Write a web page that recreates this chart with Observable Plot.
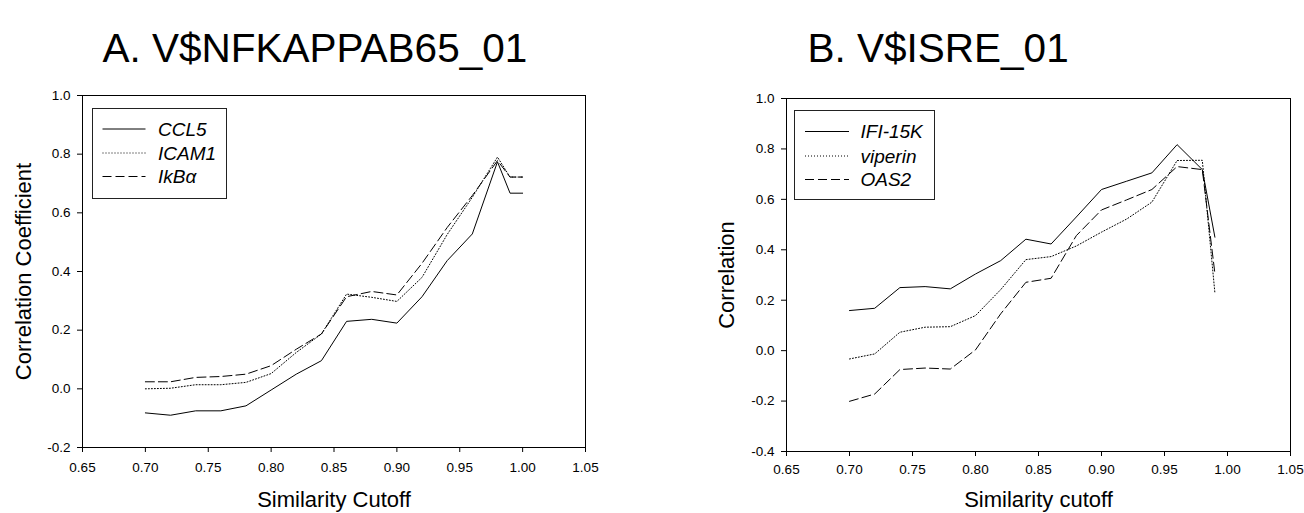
<!DOCTYPE html>
<html>
<head>
<meta charset="utf-8">
<script src="https://cdn.jsdelivr.net/npm/d3@7"></script>
<script src="https://cdn.jsdelivr.net/npm/@observablehq/plot@0.6"></script>
<style>
  html, body { margin: 0; padding: 0; background: #fff; }
  #wrap { position: relative; width: 1304px; height: 513px; overflow: hidden; font-family: "Liberation Sans", Arial, Helvetica, sans-serif; }
  .panel { position: absolute; top: 0; }
  .legend { position: absolute; }
</style>
</head>
<body>
<div id="wrap"></div>
<script>
// ---------- data ----------
const titleA = "A. V$NFKAPPAB65_01";
const titleB = "B. V$ISRE_01";
const xLabelA = "Similarity Cutoff";
const xLabelB = "Similarity cutoff";
const yLabelA = "Correlation Coefficient";
const yLabelB = "Correlation";

const xTicks = [0.65, 0.70, 0.75, 0.80, 0.85, 0.90, 0.95, 1.00, 1.05];
const yTicksA = [-0.2, 0.0, 0.2, 0.4, 0.6, 0.8, 1.0];
const yTicksB = [-0.4, -0.2, 0.0, 0.2, 0.4, 0.6, 0.8, 1.0];

const cutoffA = [0.70, 0.72, 0.74, 0.76, 0.78, 0.80, 0.82, 0.84, 0.86, 0.88, 0.90, 0.92, 0.94, 0.96, 0.98, 0.99, 1.00];
const ccl5  = [-0.082, -0.090, -0.075, -0.075, -0.058, -0.004, 0.050, 0.096, 0.230, 0.237, 0.224, 0.314, 0.437, 0.528, 0.774, 0.667, 0.667];
const icam1 = [0.000, 0.002, 0.014, 0.014, 0.022, 0.052, 0.124, 0.187, 0.323, 0.312, 0.298, 0.380, 0.526, 0.653, 0.790, 0.722, 0.722];
const ikba  = [0.024, 0.024, 0.039, 0.042, 0.050, 0.079, 0.135, 0.187, 0.314, 0.332, 0.320, 0.428, 0.550, 0.659, 0.778, 0.722, 0.722];

const cutoffB = [0.70, 0.72, 0.74, 0.76, 0.78, 0.80, 0.82, 0.84, 0.86, 0.88, 0.90, 0.92, 0.94, 0.96, 0.98, 0.99];
const ifi15k  = [0.159, 0.168, 0.250, 0.254, 0.245, 0.304, 0.357, 0.442, 0.423, 0.530, 0.639, 0.672, 0.705, 0.817, 0.718, 0.450];
const viperin = [-0.033, -0.013, 0.073, 0.093, 0.095, 0.139, 0.242, 0.361, 0.373, 0.415, 0.470, 0.522, 0.589, 0.754, 0.755, 0.229];
const oas2    = [-0.201, -0.172, -0.075, -0.069, -0.073, 0.003, 0.146, 0.271, 0.287, 0.456, 0.558, 0.598, 0.639, 0.730, 0.718, 0.306];

const namesA = ["CCL5", "ICAM1", "IkBα"];
const namesB = ["IFI-15K", "viperin", "OAS2"];
const dashes = [null, "1,2", "9,4"];

// ---------- helpers ----------
const FONT = '"Liberation Sans", Arial, Helvetica, sans-serif';
function rows(xs, ys) { return xs.map((x, i) => ({x, y: ys[i]})); }

function panel(cfg) {
  const lines = cfg.series.map((s, i) =>
    Plot.line(rows(cfg.xs, s), {x: "x", y: "y", stroke: "#000", strokeWidth: 1,
      strokeDasharray: dashes[i] || undefined}));
  return Plot.plot({
    width: 652, height: 513,
    marginLeft: cfg.ml, marginRight: cfg.mr, marginTop: cfg.mt, marginBottom: cfg.mb,
    style: {fontFamily: FONT, fontSize: "13.5px", color: "#000", background: "transparent", overflow: "visible"},
    x: {domain: [0.65, 1.05]},
    y: {domain: cfg.ydomain},
    marks: [
      Plot.frame({stroke: "#000", strokeWidth: 1}),
      Plot.axisX({ticks: xTicks, tickFormat: d => d.toFixed(2), tickSize: 5, tickPadding: cfg.xpad, label: null, fontSize: 13.5}),
      Plot.axisY({ticks: cfg.yticks, tickFormat: d => d.toFixed(1), tickSize: 5, tickPadding: 7, label: null, fontSize: 13.5}),
      ...lines,
      Plot.text([cfg.title], {text: d => d, frameAnchor: "top-left", textAnchor: "start", lineAnchor: "top",
        dx: cfg.tdx, dy: cfg.tdy, fontSize: 40.5}),
      Plot.text([cfg.xlabel], {text: d => d, frameAnchor: "bottom", textAnchor: "middle", lineAnchor: "middle",
        dy: cfg.xldy, fontSize: 22}),
      Plot.text([cfg.ylabel], {text: d => d, frameAnchor: "left", textAnchor: "middle", lineAnchor: "middle",
        rotate: -90, dx: cfg.yldx, fontSize: 22})
    ]
  });
}

function legend(names, box) {
  const svg = d3.create("svg")
    .attr("width", box.w).attr("height", box.h)
    .style("position", "absolute").style("left", box.x + "px").style("top", box.y + "px");
  svg.append("rect").attr("x", 0.5).attr("y", 0.5).attr("width", box.w - 1).attr("height", box.h - 1)
    .attr("fill", "#fff").attr("stroke", "#222").attr("stroke-width", 1);
  names.forEach((n, i) => {
    const cy = box.rows[i];
    svg.append("line").attr("x1", box.l1).attr("x2", box.l2).attr("y1", cy).attr("y2", cy)
      .attr("stroke", "#000").attr("stroke-width", 1)
      .attr("stroke-dasharray", dashes[i]);
    svg.append("text").attr("x", box.tx).attr("y", cy).attr("dy", "0.35em")
      .attr("font-family", FONT).attr("font-size", 19).attr("font-style", "italic")
      .text(n);
  });
  return svg.node();
}

// ---------- build ----------
const wrap = document.getElementById("wrap");

const pA = panel({
  xs: cutoffA, series: [ccl5, icam1, ikba], ydomain: [-0.2, 1.0], yticks: yTicksA,
  ml: 82, mr: 67, mt: 95, mb: 66, xpad: 10,
  title: titleA, tdx: 20, tdy: -62,
  xlabel: xLabelA, xldy: 52,
  ylabel: yLabelA, yldx: -59
});
pA.classList.add("panel"); pA.style.left = "0px";
wrap.appendChild(pA);

const pB = panel({
  xs: cutoffB, series: [ifi15k, viperin, oas2], ydomain: [-0.4, 1.0], yticks: yTicksB,
  ml: 134, mr: 14, mt: 98, mb: 62, xpad: 8,
  title: titleB, tdx: 21, tdy: -65,
  xlabel: xLabelB, xldy: 48.5,
  ylabel: yLabelB, yldx: -60
});
pB.classList.add("panel"); pB.style.left = "652px";
wrap.appendChild(pB);

wrap.appendChild(legend(namesA, {x: 92, y: 108, w: 135, h: 91, rows: [21, 45, 68.5], l1: 10.5, l2: 53.5, tx: 66}));
wrap.appendChild(legend(namesB, {x: 794, y: 110, w: 141, h: 90, rows: [21.5, 46, 69.5], l1: 11, l2: 55, tx: 66.5}));
</script>
</body>
</html>
